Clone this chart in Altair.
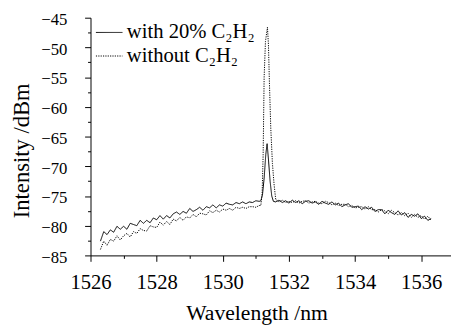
import altair as alt
import pandas as pd

SERIES = ["with 20% C₂H₂", "without C₂H₂"]

wl_pre = [1526.3, 1526.4, 1526.5, 1526.6, 1526.7, 1526.8, 1526.9, 1527.0, 1527.1, 1527.2,
          1527.3, 1527.4, 1527.5, 1527.6, 1527.7, 1527.8, 1527.9, 1528.0, 1528.1, 1528.2,
          1528.3, 1528.4, 1528.5, 1528.6, 1528.7, 1528.8, 1528.9, 1529.0, 1529.1, 1529.2,
          1529.3, 1529.4, 1529.5, 1529.6, 1529.7, 1529.8, 1529.9, 1530.0, 1530.1, 1530.2,
          1530.3, 1530.4, 1530.5, 1530.6, 1530.7, 1530.8, 1530.9, 1531.0, 1531.1]

wl_post = [1531.7, 1531.8, 1531.9, 1532.0, 1532.1, 1532.2, 1532.3, 1532.4, 1532.5, 1532.6,
           1532.7, 1532.8, 1532.9, 1533.0, 1533.1, 1533.2, 1533.3, 1533.4, 1533.5, 1533.6,
           1533.7, 1533.8, 1533.9, 1534.0, 1534.1, 1534.2, 1534.3, 1534.4, 1534.5, 1534.6,
           1534.7, 1534.8, 1534.9, 1535.0, 1535.1, 1535.2, 1535.3, 1535.4, 1535.5, 1535.6,
           1535.7, 1535.8, 1535.9, 1536.0, 1536.1, 1536.2, 1536.3]

# with 20% C2H2 (solid)
with_pre = [-82.6, -81.0, -81.5, -80.7, -81.1, -80.1, -80.6, -80.1, -80.6, -79.6,
            -79.8, -80.0, -79.1, -79.6, -79.1, -79.5, -78.7, -79.0, -78.3, -78.9,
            -78.3, -78.7, -78.0, -77.7, -78.1, -77.6, -77.9, -77.1, -77.6, -77.3,
            -76.9, -77.4, -76.8, -77.0, -76.5, -77.0, -76.5, -76.7, -76.2, -76.4,
            -76.5, -76.1, -76.3, -76.0, -76.3, -76.0, -76.1, -75.8, -75.9]
with_peak_wl = [1531.15, 1531.20, 1531.25, 1531.30, 1531.34, 1531.38, 1531.43, 1531.48, 1531.53, 1531.6]
with_peak = [-75.8, -74.8, -72.0, -68.0, -66.2, -68.8, -72.5, -75.0, -75.9, -76.0]
with_post = [-75.7, -76.1, -75.8, -76.2, -75.7, -76.1, -75.8, -76.3, -75.9, -75.8,
             -76.2, -76.0, -76.4, -75.9, -76.2, -76.4, -76.0, -76.5, -76.2, -76.8,
             -76.5, -76.3, -76.9, -76.8, -76.7, -77.3, -76.8, -77.2, -76.9, -77.6,
             -77.3, -77.3, -78.0, -77.4, -77.8, -78.1, -77.5, -78.2, -77.8, -78.6,
             -78.1, -78.4, -78.0, -78.8, -78.4, -79.1, -78.8]

# without C2H2 (dotted)
without_pre = [-84.0, -82.6, -83.3, -82.3, -82.6, -81.7, -82.4, -81.7, -81.3, -81.9,
               -81.0, -81.3, -80.5, -80.8, -80.9, -80.0, -80.2, -80.3, -79.4, -79.9,
               -79.3, -79.8, -78.9, -79.2, -78.6, -79.1, -78.5, -78.7, -78.1, -78.5,
               -77.9, -78.0, -78.2, -77.5, -77.8, -77.4, -77.7, -77.2, -77.4, -77.1,
               -77.4, -76.9, -77.1, -76.9, -77.1, -76.8, -76.8, -76.9, -76.6]
without_peak_wl = [1531.15, 1531.19, 1531.22, 1531.25, 1531.29, 1531.35, 1531.38, 1531.41,
                   1531.45, 1531.50, 1531.55, 1531.60]
without_peak = [-76.6, -74.5, -68.0, -55.0, -49.0, -46.6, -49.5, -56.0, -63.5, -69.5, -73.0, -75.6]
without_post = [-76.0, -75.7, -76.1, -75.9, -76.1, -75.8, -76.2, -75.9, -75.8, -76.2,
                -76.0, -75.9, -76.2, -76.3, -75.9, -76.1, -76.5, -76.2, -76.6, -76.4,
                -76.4, -76.8, -76.6, -77.0, -76.9, -76.8, -77.2, -76.8, -77.3, -77.3,
                -77.7, -77.3, -77.5, -78.0, -77.4, -77.8, -78.2, -77.8, -78.3, -77.9,
                -78.6, -78.1, -78.6, -78.3, -78.9, -78.4, -79.1]

x_ticks = [1526, 1527, 1528, 1529, 1530, 1531, 1532, 1533, 1534, 1535, 1536]
y_ticks = [-85, -82.5, -80, -77.5, -75, -72.5, -70, -67.5, -65, -62.5, -60, -57.5,
           -55, -52.5, -50, -47.5, -45]

rows = []
for s, wls, vals in [
    (SERIES[0], wl_pre + with_peak_wl + wl_post, with_pre + with_peak + with_post),
    (SERIES[1], wl_pre + without_peak_wl + wl_post, without_pre + without_peak + without_post),
]:
    for i, (w, v) in enumerate(zip(wls, vals)):
        rows.append({"series": s, "wl": w, "val": v, "order": i})
df = pd.DataFrame(rows)

FONT = "Liberation Serif"

chart = alt.Chart(df).mark_line(color="black", strokeWidth=1).encode(
    x=alt.X("wl:Q",
            scale=alt.Scale(domain=[1526, 1536.9], nice=False, zero=False),
            axis=alt.Axis(values=x_ticks, format="d", labelFlush=False,
                          labelExpr="datum.value % 2 === 0 ? datum.label : ''",
                          tickSize={"condition": {"test": "datum.value % 2 === 0", "value": 6}, "value": 3},
                          labelFont=FONT, labelFontSize=21, labelPadding=11,
                          title="Wavelength /nm", titleFont=FONT, titleFontSize=22,
                          titleX=169, titleY=65, titleBaseline="alphabetic",
                          titleAnchor="start", titleAlign="center")),
    y=alt.Y("val:Q",
            scale=alt.Scale(domain=[-85, -45], nice=False, zero=False),
            axis=alt.Axis(values=y_ticks, labelFlush=False,
                          labelExpr="datum.value % 5 === 0 ? datum.label : ''",
                          tickSize={"condition": {"test": "datum.value % 5 === 0", "value": 6}, "value": 3},
                          labelFont=FONT, labelFontSize=17, labelPadding=18, labelOffset=2,
                          title="Intensity /dBm", titleFont=FONT, titleFontSize=23,
                          titleX=-70, titleY=135, titleAngle=-90,
                          titleBaseline="middle", titleAlign="center", titleAnchor="start")),
    strokeDash=alt.StrokeDash("series:N",
                              scale=alt.Scale(domain=SERIES, range=[[1, 0], [1.2, 1.2]]),
                              legend=alt.Legend(title=None, orient="none", legendX=5, legendY=1,
                                                symbolType="stroke", symbolSize=729,
                                                symbolStrokeWidth=1, symbolStrokeColor="black",
                                                labelFont=FONT, labelFontSize=21, labelColor="black",
                                                labelOffset=4, rowPadding=0, padding=0)),
    order="order:Q",
).properties(
    width=367, height=242,
    autosize=alt.AutoSizeParams(type="none"),
    padding={"left": 84, "top": 7, "right": 0, "bottom": 70},
).configure(font=FONT).configure_view(stroke=None).configure_axis(
    grid=False, domainColor="black", tickColor="black", labelColor="black",
    titleColor="black", labelFont=FONT, titleFont=FONT, titleFontWeight="normal",
    domainWidth=1, tickWidth=1,
)

chart.save("out.html", embed_options={"renderer": "svg", "actions": False})
